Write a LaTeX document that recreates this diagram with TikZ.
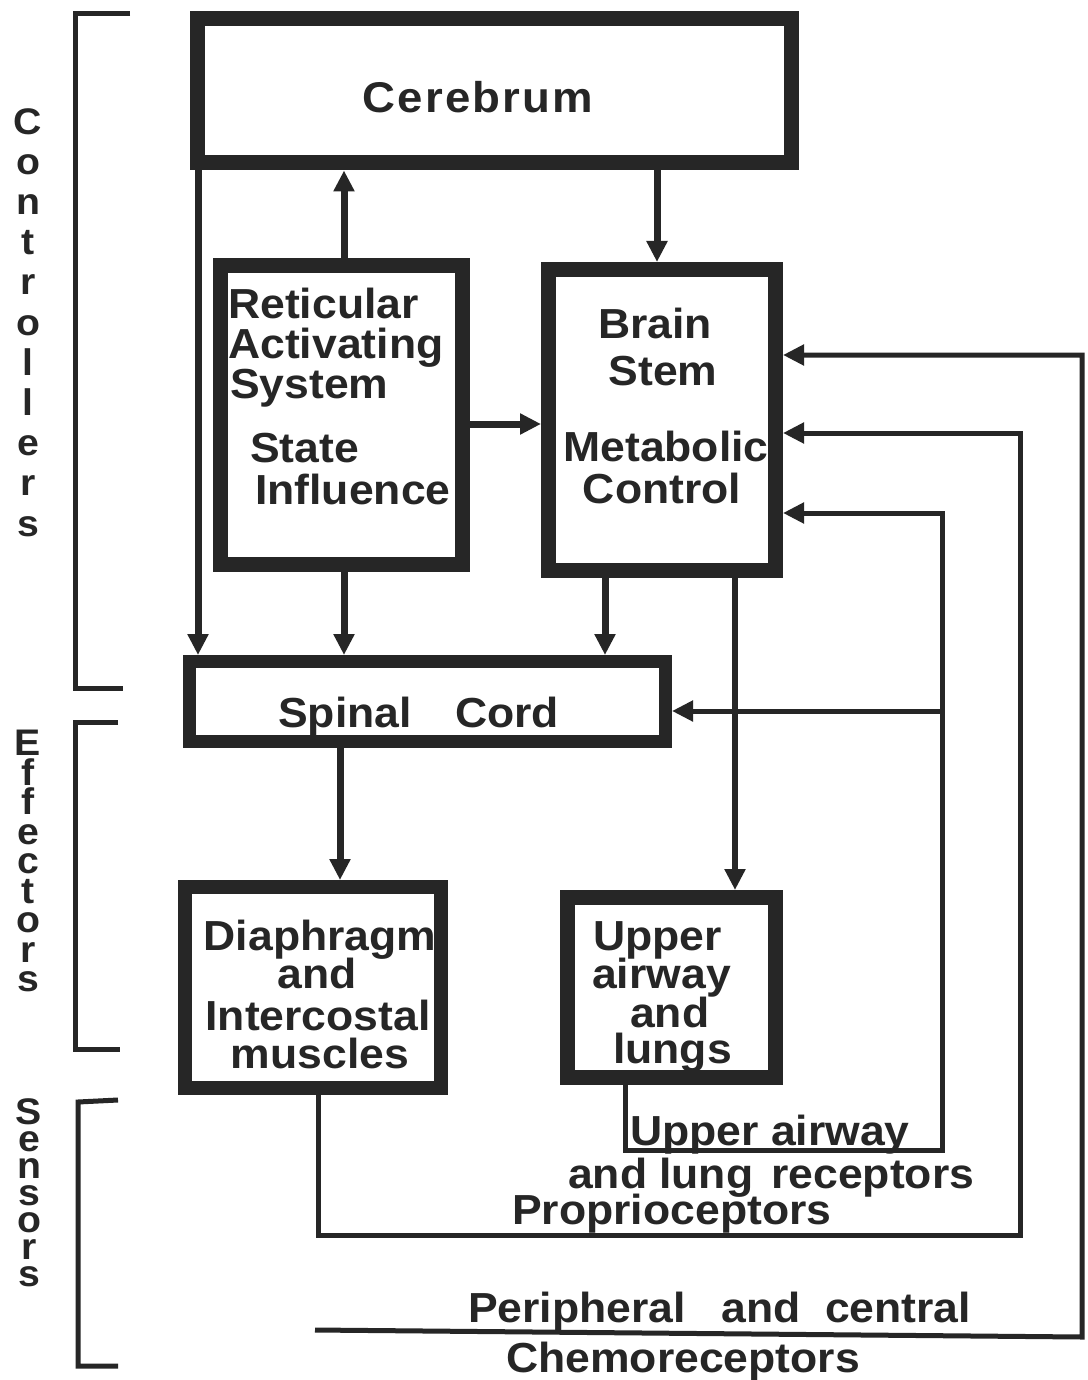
\documentclass[tikz,border=0pt]{standalone}
\usepackage{fontspec}
\setmainfont{Liberation Sans}[FakeStretch=1.06]
\usetikzlibrary{arrows.meta}
\definecolor{ink}{HTML}{262626}
\begin{document}
\begin{tikzpicture}[x=1pt,y=-1pt,
  box/.style={draw=ink, line width=#1, rectangle},
  box/.default=14pt,
  txt/.style={text=ink, inner sep=0pt, font=\bfseries\fontsize{42}{42}\selectfont, anchor=base west},
  ctxt/.style={txt, anchor=base},
  side/.style={text=ink, inner sep=0pt, align=center, anchor=north},
  sideA/.style={side, font=\bfseries\fontsize{37}{40.2}\selectfont},
  sideB/.style={side, font=\bfseries\fontsize{37}{29.5}\selectfont},
  sideC/.style={side, font=\bfseries\fontsize{37}{27}\selectfont},
  wire/.style={draw=ink, line width=5pt, line join=miter},
  tip/.style={-{Triangle[length=21pt,width=20pt]}},
  arr/.style={wire, line width=7pt, tip},
  farr/.style={wire, tip},
  brk/.style={draw=ink, line width=5pt, line join=miter}]
\fill[white] (0,0) rectangle (1087,1380);
\useasboundingbox (0,0) rectangle (1087,1380);

% ---- boxes
\node[box=15pt, minimum width=594pt, minimum height=144pt] (cer) at (494,91) {};
\node[box=15pt, minimum width=242pt, minimum height=299pt] (ras) at (341.5,415) {};
\node[box=15pt, minimum width=227pt, minimum height=301pt] (bs) at (662,420) {};
\node[box=13pt, minimum width=476pt, minimum height=80pt] (sc) at (427.5,701.5) {};
\node[box=14pt, minimum width=256pt, minimum height=201pt] (dia) at (313,987.5) {};
\node[box=15pt, minimum width=208pt, minimum height=180pt] (ua) at (671.5,987.5) {};

% ---- box texts
\node[ctxt, font=\bfseries\fontsize{43}{43}\selectfont\addfontfeature{LetterSpace=5}] (cerT) at (478,113) {Cerebrum};

\node[txt] (rasT1) at (228,318) {Reticular};
\node[txt] (rasT2) at (228,358) {Activating};
\node[txt] (rasT3) at (230,398) {System};
\node[txt] (rasT4) at (250,462) {State};
\node[txt] (rasT5) at (255,504) {Influence};

\node[ctxt] (bsT1) at (655,338) {Brain};
\node[ctxt] (bsT2) at (663,385) {Stem};
\node[ctxt] (bsT3) at (666,461) {Metabolic};
\node[ctxt] (bsT4) at (662,503) {Control};

\node[txt] (scT1) at (278,727) {Spinal};
\node[txt] (scT2) at (455,727) {Cord};

\node[ctxt] (diaT1) at (320,950) {Diaphragm};
\node[ctxt] (diaT2) at (317,988) {and};
\node[ctxt] (diaT3) at (318,1030) {Intercostal};
\node[ctxt] (diaT4) at (320,1068) {muscles};

\node[txt] (uaT1) at (593,950) {Upper};
\node[txt] (uaT2) at (592,988) {airway};
\node[txt] (uaT3) at (630,1027) {and};
\node[txt] (uaT4) at (613,1063) {lungs};

% ---- sensor labels
\node[txt] (lblUA1) at (630,1145) {Upper airway};
\node[txt] (lblUA2) at (568,1188) {and\hspace{12pt}lung\hspace{18pt}receptors};
\node[txt] (lblPro) at (512,1224) {Proprioceptors};
\node[txt] (lblCh1) at (468,1322) {Peripheral\hspace{36pt}and\hspace{24pt}central};
\node[txt] (lblCh2) at (506,1372) {Chemoreceptors};

% ---- helper columns
\coordinate (cA) at (198,0);
\coordinate (cB) at (344,0);
\coordinate (cC) at (657,0);
\coordinate (cD) at (605,0);
\coordinate (cE) at (735,0);
\coordinate (cF) at (340,0);
\coordinate (cG) at (625,0);
\coordinate (cH) at (318,0);
\coordinate (rR) at (0,424);

% ---- controller arrows
\draw[arr] (cC |- cer.south) -- (cC |- bs.north);
\draw[arr] (cB |- ras.north) -- (cB |- cer.south);
\draw[arr] (cA |- cer.south) -- (cA |- sc.north);
\draw[arr] (rR -| ras.east) -- (rR -| bs.west);
\draw[arr] (cB |- ras.south) -- (cB |- sc.north);
\draw[arr] (cD |- bs.south) -- (cD |- sc.north);
\draw[arr, line width=6pt] (cE |- bs.south) -- (cE |- ua.north);
\draw[arr] (cF |- sc.south) -- (cF |- dia.north);

% ---- feedback loops
\coordinate (uaC1) at (942,1150);
\coordinate (uaC2) at (942,513);
\coordinate (uaC3) at (942,711);
\draw[farr] (cG |- ua.south) |- (uaC1) -- (uaC2) -- (uaC2 -| bs.east);
\draw[farr] (uaC3) -- (uaC3 -| sc.east);

\coordinate (prC1) at (1020,1235);
\coordinate (prC2) at (1020,433);
\draw[farr] (cH |- dia.south) |- (prC1) -- (prC2) -- (prC2 -| bs.east);

\coordinate (chL) at (315,1330);
\coordinate (chC1) at (1082,1337);
\coordinate (chC2) at (1082,355);
\draw[farr] (chL) -- (chC1) -- (chC2) -- (chC2 -| bs.east);

% ---- brackets
\draw[brk] (130,14) -- (75,14) -- (75,688) -- (123,688);
\draw[brk] (118,722) -- (75,722) -- (75,1049) -- (120,1049);
\draw[brk] (118,1100) -- (78,1102) -- (78,1366) -- (118,1366);

% ---- side labels
\node[sideA] (ctrl) at (28,108) {C\\o\\n\\t\\r\\o\\l\\l\\e\\r\\s};
\node[sideB] (eff) at (28,730) {E\\f\\f\\e\\c\\t\\o\\r\\s};
\node[sideC] (sen) at (29,1098) {S\\e\\n\\s\\o\\r\\s};
\end{tikzpicture}
\end{document}
